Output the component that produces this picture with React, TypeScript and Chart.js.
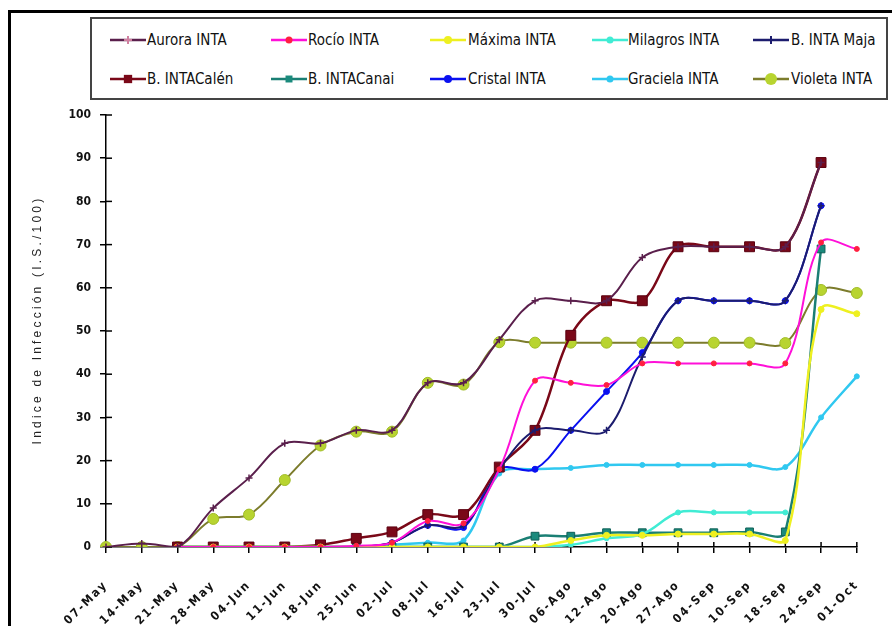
import React, { useEffect, useRef } from 'react';
import { Chart, registerables } from 'chart.js';
Chart.register(...registerables);

const categories = ['07-May','14-May','21-May','28-May','04-Jun','11-Jun','18-Jun','25-Jun','02-Jul','08-Jul','16-Jul','23-Jul','30-Jul','06-Ago','12-Ago','20-Ago','27-Ago','04-Sep','10-Sep','18-Sep','24-Sep','01-Oct'];

const yTicks = [0,10,20,30,40,50,60,70,80,90,100];
const yTitle = 'Indice de Infección (I.S./100)';

const seriesNames = ['Aurora INTA','Rocío INTA','Máxima INTA','Milagros INTA','B. INTA Maja','B. INTACalén','B. INTACanai','Cristal INTA','Graciela INTA','Violeta INTA'];

const aurora   = [0,0.8,0,9,16,24,24,27,27,38,38,48,57,57,57,67,69.5,69.5,69.5,69.5,89,null];
const rocio    = [null,null,0,0,0,0,0,0.3,1,6,5.5,18,38.5,38,37.5,42.5,42.5,42.5,42.5,42.5,70.5,69];
const maxima   = [null,null,0,0,0,0,0,0,0,0,0,0,0,1.5,2.7,2.7,3,3,3,1.5,55,54];
const milagros = [null,null,0,0,0,0,0,0,0,0,0,0,0,0.5,2,3,8,8,8,8,null,null];
const maja     = [null,null,0,0,0,0,0,0,1,5,5,18,27,27,27,44,57,57,57,57,79,null];
const calen    = [null,null,0,0,0,0,0.5,2,3.5,7.5,7.5,18.5,27,49,57,57,69.5,69.5,69.5,69.5,89,null];
const canal    = [null,null,0,0,0,0,0,0,0,0,0,0,2.5,2.5,3.3,3.3,3.3,3.3,3.5,3.5,69,null];
const cristal  = [null,null,0,0,0,0,0,0,1,5,4.5,18,18,27,36,45,57,57,57,57,79,null];
const graciela = [null,null,0,0,0,0,0,0,0.5,1,1.5,17,18,18.3,19,19,19,19,19,18.5,30,39.5];
const violeta  = [0,0,0,6.5,7.5,15.5,23.5,26.7,26.7,38,37.6,47.4,47.3,47.3,47.3,47.3,47.3,47.3,47.3,47.2,59.5,58.8];

const seriesValues = [aurora, rocio, maxima, milagros, maja, calen, canal, cristal, graciela, violeta];

type Sty = { line: string; fill: string; stroke: string; shape: 'cross' | 'circle' | 'rect' | 'none'; r: number; w: number };
const styles: Sty[] = [
  { line: '#5a1f4c', fill: '#d080a0', stroke: '#5a1f4c', shape: 'cross', r: 3.5, w: 2 },
  { line: '#ff10d8', fill: '#ff2040', stroke: '#ff2040', shape: 'circle', r: 2.5, w: 2 },
  { line: '#eef020', fill: '#eef020', stroke: '#eef020', shape: 'circle', r: 3, w: 2.5 },
  { line: '#40ecd4', fill: '#40ecd4', stroke: '#40ecd4', shape: 'circle', r: 2.5, w: 2.5 },
  { line: '#1c1c6e', fill: '#1c1c6e', stroke: '#1c1c6e', shape: 'cross', r: 3.5, w: 2 },
  { line: '#7a0818', fill: '#7a0818', stroke: '#5a0010', shape: 'rect', r: 7, w: 2.5 },
  { line: '#1a7f74', fill: '#1a8a7c', stroke: '#106058', shape: 'rect', r: 5.5, w: 2.5 },
  { line: '#0a10f0', fill: '#0a10f0', stroke: '#0a10f0', shape: 'circle', r: 3, w: 2 },
  { line: '#30c8f0', fill: '#30c8f0', stroke: '#30c8f0', shape: 'circle', r: 2.5, w: 2.5 },
  { line: '#7c7c2c', fill: '#b8d430', stroke: '#a0bc28', shape: 'circle', r: 5.5, w: 2 },
];

const legendSampleX = [110, 271, 430, 592, 753];
const legendTextX = [147, 308, 468, 628, 791];
const legendRowY = [40, 79];

const W = 892, H = 626;
const tickFont = '"Liberation Sans Narrow", "DejaVu Sans Condensed", "Liberation Sans", sans-serif';

const decor = {
  id: 'decor',
  beforeDatasetsDraw(chart: any) {
    const ctx = chart.ctx;
    const area = chart.chartArea;
    const xs = chart.scales.x, ys = chart.scales.y;
    ctx.save();
    ctx.strokeStyle = '#000';
    ctx.lineWidth = 1.5;
    ys.ticks.forEach((_: any, i: number) => {
      const py = ys.getPixelForTick(i);
      ctx.beginPath(); ctx.moveTo(area.left, py); ctx.lineTo(area.left + 6, py); ctx.stroke();
    });
    xs.ticks.forEach((_: any, i: number) => {
      const px = xs.getPixelForTick(i);
      ctx.beginPath(); ctx.moveTo(px, area.bottom); ctx.lineTo(px, area.bottom - 5); ctx.stroke();
    });
    ctx.restore();
  },
  afterDatasetsDraw(chart: any) {
    chart.ctx.letterSpacing = '2px';
  },
  afterDraw(chart: any) {
    const ctx = chart.ctx;
    ctx.letterSpacing = '0px';
    ctx.save();
    ctx.translate(38, 320);
    ctx.rotate(-Math.PI / 2);
    ctx.letterSpacing = '3.2px';
    ctx.font = '12px "Liberation Sans", sans-serif';
    ctx.textAlign = 'center';
    ctx.textBaseline = 'middle';
    ctx.fillStyle = '#222';
    ctx.fillText(yTitle, 0, 0);
    ctx.restore();
    ctx.letterSpacing = '0px';
  },
};

function LegendSample({ s }: { s: Sty }) {
  const w = 36, h = 14, cx = w / 2, cy = h / 2;
  let marker: any = null;
  if (s.shape === 'cross') {
    marker = <path d={`M${cx} ${cy - 4} V${cy + 4} M${cx - 4} ${cy} H${cx + 4}`} stroke={s.fill} strokeWidth={2} />;
  } else if (s.shape === 'circle') {
    marker = <circle cx={cx} cy={cy} r={Math.min(s.r + 1, 6)} fill={s.fill} />;
  } else if (s.shape === 'rect') {
    const a = s.r * 0.9;
    marker = <rect x={cx - a / 2 - 1} y={cy - a / 2 - 1} width={a + 2} height={a + 2} fill={s.fill} />;
  }
  return (
    <svg width={w} height={h} style={{ display: 'block' }}>
      <line x1={0} y1={cy} x2={w} y2={cy} stroke={s.line} strokeWidth={2.5} />
      {marker}
    </svg>
  );
}

export default function App() {
  const ref = useRef<HTMLCanvasElement>(null);
  useEffect(() => {
    const datasets = seriesNames.map((name, i) => {
      const s = styles[i];
      return {
        label: name,
        data: seriesValues[i],
        borderColor: s.line,
        backgroundColor: s.fill,
        borderWidth: s.w,
        pointStyle: s.shape === 'none' ? false : s.shape,
        pointRadius: s.r,
        pointBackgroundColor: s.fill,
        pointBorderColor: s.stroke,
        pointBorderWidth: s.shape === 'cross' ? 1.5 : 1,
        tension: 0.35,
        spanGaps: false,
        fill: false,
      };
    });
    const chart = new Chart(ref.current as HTMLCanvasElement, {
      type: 'line',
      data: { labels: categories, datasets: datasets as any },
      plugins: [decor as any],
      options: {
        animation: false,
        responsive: false,
        maintainAspectRatio: false,
        layout: { padding: { top: 115, right: 25, left: 0, bottom: 0 } },
        plugins: { legend: { display: false }, tooltip: { enabled: false }, title: { display: false } },
        scales: {
          x: {
            type: 'category',
            offset: false,
            grid: { display: true, drawOnChartArea: false, drawTicks: true, tickLength: 6, color: '#000', lineWidth: 1.5 },
            border: { display: true, color: '#000', width: 1.5 },
            ticks: {
              autoSkip: false, maxRotation: 45, minRotation: 45, padding: 25,
              font: { family: tickFont, size: 12, weight: 'bold' }, color: '#111', z: 1,
            },
            afterFit: (s: any) => { s.height = 79; },
          },
          y: {
            min: 0, max: 100,
            afterBuildTicks: (s: any) => { s.ticks = yTicks.map((v) => ({ value: v })); },
            grid: { display: true, drawOnChartArea: false, drawTicks: true, tickLength: 6, color: '#000', lineWidth: 1.5 },
            border: { display: true, color: '#000', width: 1.5 },
            ticks: { padding: 9, font: { family: tickFont, size: 12, weight: 'bold' }, color: '#111' },
            afterFit: (s: any) => { s.width = 106; },
          },
        },
      } as any,
    });
    return () => chart.destroy();
  }, []);

  return (
    <div style={{ position: 'fixed', left: 0, top: 0, width: W, height: H, overflow: 'hidden', background: '#fff' }}>
      <div style={{ position: 'absolute', left: 8, top: 10, width: 1000, height: 1000, borderLeft: '3px solid #000', borderTop: '3px solid #000' }} />
      <canvas ref={ref} width={W} height={H} style={{ position: 'absolute', left: 0, top: 0 }} />
      <div style={{ position: 'absolute', left: 90, top: 17, width: 794, height: 79, border: '2px solid #444', background: '#fff' }} />
      {seriesNames.map((name, i) => {
        const col = i % 5, row = Math.floor(i / 5);
        return (
          <React.Fragment key={name}>
            <div style={{ position: 'absolute', left: legendSampleX[col], top: legendRowY[row] - 7 }}>
              <LegendSample s={styles[i]} />
            </div>
            <div style={{ position: 'absolute', left: legendTextX[col], top: legendRowY[row] - 10, fontFamily: tickFont, fontSize: 15, lineHeight: '20px', color: '#111', whiteSpace: 'nowrap' }}>
              {name}
            </div>
          </React.Fragment>
        );
      })}
    </div>
  );
}
